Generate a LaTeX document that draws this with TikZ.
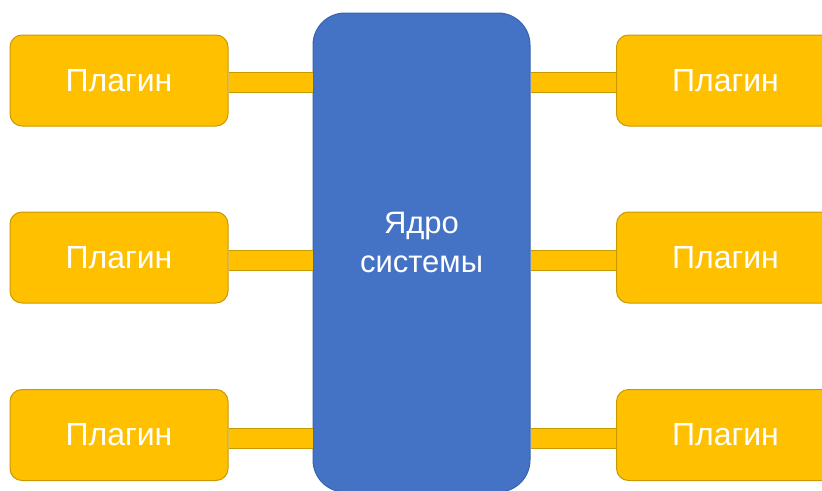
\documentclass[tikz,border=0pt]{standalone}
\usepackage{fontspec}
\setmainfont{Liberation Sans}
\definecolor{plugfill}{HTML}{FFC000}
\definecolor{plugline}{HTML}{C99A00}
\definecolor{corefill}{HTML}{4472C4}
\definecolor{coreline}{HTML}{3A63AD}
\begin{document}
\begin{tikzpicture}[x=1pt,y=-1pt,
  plugin/.style={draw=plugline, line width=1pt, fill=plugfill, rounded corners=12pt,
    minimum width=218pt, minimum height=91pt, inner sep=0pt,
    text=white, font=\fontsize{32}{39}\selectfont},
  core/.style={draw=coreline, line width=1pt, fill=corefill, rounded corners=32pt,
    minimum width=217pt, minimum height=479pt, inner sep=0pt},
  coretext/.style={text=white, align=center, inner sep=0pt,
    font=\fontsize{31}{39}\selectfont},
  link/.style={draw=plugline, line width=1pt, double=plugfill, double distance=19pt}]
\useasboundingbox (0,0) rectangle (822,490);
\clip (0,0) rectangle (822,490);
% central core block and its caption
\node[core] (core) at (421.5,252.5) {};
\node[coretext] (corelabel) at (421.5,242) {Ядро\\системы};
% heights of the three connecting bars
\coordinate (ctop) at (0,82);
\coordinate (cmid) at (0,260.5);
\coordinate (cbot) at (0,438);
% plugin blocks, left column and right column
\foreach \n/\y in {1/80.5, 2/257.5, 3/435}{
  \node[plugin] (l\n) at (119,\y) {Плагин};
  \node[plugin] (r\n) at (725.5,\y) {Плагин};
}
% connecting bars between plugins and the core
\foreach \n/\c in {1/ctop, 2/cmid, 3/cbot}{
  \draw[link] (l\n.east |- \c) -- (core.west |- \c);
  \draw[link] (core.east |- \c) -- (r\n.west |- \c);
}
\end{tikzpicture}
\end{document}
